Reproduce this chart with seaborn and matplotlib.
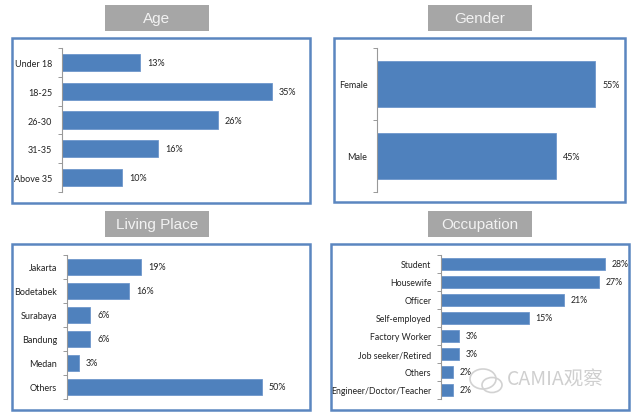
import numpy as np
import pandas as pd
import matplotlib
matplotlib.use("Agg")
import matplotlib.pyplot as plt
from matplotlib.patches import Rectangle, Ellipse
import seaborn as sns

# datos de cada panel
age_labels = ["Under 18", "18-25", "26-30", "31-35", "Above 35"]
age_values = [13, 35, 26, 16, 10]

gender_labels = ["Female", "Male"]
gender_values = [55, 45]

place_labels = ["Jakarta", "Bodetabek", "Surabaya", "Bandung", "Medan", "Others"]
place_values = [19, 16, 6, 6, 3, 50]

occ_labels = ["Student", "Housewife", "Officer", "Self-employed", "Factory Worker",
              "Job seeker/Retired", "Others", "Engineer/Doctor/Teacher"]
occ_values = [28, 27, 21, 15, 3, 3, 2, 2]

sns.set_style("white")
plt.rcParams["font.family"] = ["Lato", "DejaVu Sans"]

W, H = 640, 414
fig = plt.figure(figsize=(W / 100, H / 100), dpi=100)

BAR = "#4f81bd"
EDGE = "#6f97cc"
FRAME = "#5b86c0"
GRAY = "#a6a6a6"


def rect_px(x0, y0, x1, y1, **kw):
    r = Rectangle((x0 / W, 1 - y1 / H), (x1 - x0) / W, (y1 - y0) / H,
                  transform=fig.transFigure, **kw)
    fig.patches.append(r)
    return r


def title_box(x0, y0, x1, y1, text):
    rect_px(x0, y0, x1, y1, facecolor=GRAY, edgecolor="none")
    fig.text((x0 + x1) / 2 / W, 1 - (y0 + y1) / 2 / H, text, ha="center", va="center",
             color="#f2f2f2", fontsize=11, family=["Liberation Sans", "DejaVu Sans"])


def panel(box, ax_px, labels, values, xmax, height, fs=6.5):
    rect_px(*box, facecolor="none", edgecolor=FRAME, linewidth=1.8)
    x0, y0, x1, y1 = ax_px
    ax = fig.add_axes([x0 / W, 1 - y1 / H, (x1 - x0) / W, (y1 - y0) / H])
    ax.set_zorder(5)
    ax.patch.set_alpha(0)
    df = pd.DataFrame({"cat": labels, "val": values})
    sns.barplot(data=df, x="val", y="cat", order=labels, color=BAR, width=height,
                saturation=1, edgecolor=EDGE, linewidth=0.6, ax=ax)
    n = len(labels)
    ax.set_xlim(0, xmax)
    ax.set_ylim(n - 0.5, -0.5)
    ax.set_xlabel("")
    ax.set_ylabel("")
    ax.set_xticks([])
    ax.set_yticks(np.arange(-0.5, n), minor=True)
    ax.tick_params(axis="y", which="major", left=False, length=0, labelsize=fs, pad=7,
                   labelcolor="#222222")
    ax.tick_params(axis="y", which="minor", left=True, length=3, color="#999999", width=0.7)
    for s in ["top", "right", "bottom"]:
        ax.spines[s].set_visible(False)
    ax.spines["left"].set_color("#999999")
    ax.spines["left"].set_linewidth(0.8)
    ax.bar_label(ax.containers[0], labels=[f"{v}%" for v in values], padding=5,
                 fontsize=fs, color="#222222")
    return ax


title_box(105, 6, 209, 32, "Age")
title_box(428, 6, 532, 32, "Gender")
title_box(105, 212, 209, 238, "Living Place")
title_box(428, 212, 532, 238, "Occupation")

panel((12, 39, 310, 204), (62, 49, 302, 193), age_labels, age_values, 40, 0.6)
panel((334, 39, 625, 203), (377, 49, 615, 193), gender_labels, gender_values, 60, 0.65)
panel((12, 245, 310, 411), (67, 256, 301, 400), place_labels, place_values, 60, 0.7)
panel((331, 245, 629, 411), (441, 256, 624, 400), occ_labels, occ_values, 31.3, 0.66, fs=6.3)

# marca de agua (icono + texto)
for cx, cy, w, h in [(483, 380, 26, 20), (492, 386, 20, 15)]:
    e = Ellipse((cx / W, 1 - cy / H), w / W, h / H, transform=fig.transFigure,
                facecolor="none", edgecolor="#d2d2d2", linewidth=1.2, zorder=10)
    fig.patches.append(e)
fig.text(507 / W, 1 - 380 / H, "CAMIA观察", ha="left", va="center", fontsize=14,
         color="#cfcfcf", family=["Noto Sans CJK SC", "DejaVu Sans"], zorder=10)

plt.savefig("out.png", dpi=100)
